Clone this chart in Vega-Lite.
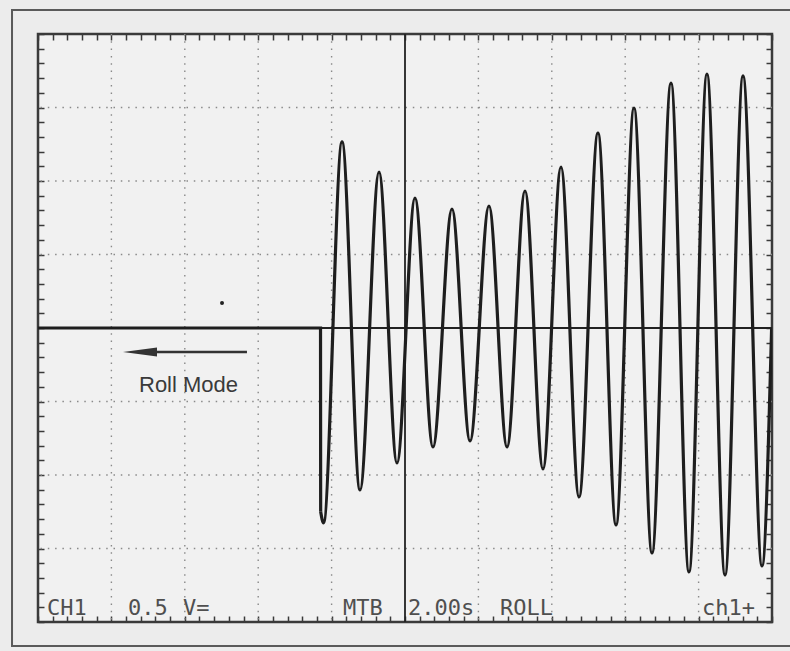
{
  "$schema": "https://vega.github.io/schema/vega-lite/v6.json",
  "width": 734,
  "height": 588,
  "autosize": {"type": "none"},
  "padding": {"left": 38, "top": 34, "right": 18, "bottom": 29},
  "background": "#ececec",
  "config": {
    "view": {"stroke": "#3a3a3a", "strokeWidth": 2.5, "fill": "#f1f1f1"}
  },
  "datasets": {
    "flat": [
      {"t": 0, "v": 0}, {"t": 3.849, "v": 0}, {"t": 3.851, "v": -2.5}
    ],
    "trace": [
      {"t": 3.851, "v": -2.5}, {"t": 3.89, "v": -2.65},
      {"t": 4.142, "v": 2.531}, {"t": 4.387, "v": -2.204}, {"t": 4.646, "v": 2.122}, {"t": 4.891, "v": -1.837},
      {"t": 5.136, "v": 1.769}, {"t": 5.381, "v": -1.619}, {"t": 5.640, "v": 1.619}, {"t": 5.886, "v": -1.537},
      {"t": 6.144, "v": 1.660}, {"t": 6.390, "v": -1.619}, {"t": 6.635, "v": 1.864}, {"t": 6.880, "v": -1.918},
      {"t": 7.125, "v": 2.190}, {"t": 7.371, "v": -2.299}, {"t": 7.629, "v": 2.653}, {"t": 7.875, "v": -2.680},
      {"t": 8.120, "v": 2.993}, {"t": 8.365, "v": -3.061}, {"t": 8.624, "v": 3.333}, {"t": 8.869, "v": -3.320},
      {"t": 9.114, "v": 3.456}, {"t": 9.360, "v": -3.361}, {"t": 9.605, "v": 3.429}, {"t": 9.864, "v": -3.238},
      {"t": 9.995, "v": 0.0}
    ],
    "vgrid": [{"x": 1}, {"x": 2}, {"x": 3}, {"x": 4}, {"x": 6}, {"x": 7}, {"x": 8}, {"x": 9}],
    "hgrid": [{"y": -3}, {"y": -2}, {"y": -1}, {"y": 1}, {"y": 2}, {"y": 3}],
    "mono": [
      {"label": "CH1", "x": 0.123, "y": -3.905},
      {"label": "0.5", "x": 1.226, "y": -3.905},
      {"label": "V=", "x": 1.975, "y": -3.905},
      {"label": "MTB", "x": 4.155, "y": -3.905},
      {"label": "2.00s", "x": 5.041, "y": -3.905},
      {"label": "ROLL", "x": 6.294, "y": -3.905},
      {"label": "ch1+", "x": 9.046, "y": -3.905}
    ]
  },
  "resolve": {"axis": {"x": "independent", "y": "independent"}},
  "layer": [
    {
      "data": {"values": [{"x1": -0.354, "x2": 11.5, "y1": 4.327, "y2": -4.327}]},
      "mark": {"type": "rect", "filled": false, "stroke": "#5a5a5a", "strokeWidth": 2},
      "encoding": {
        "x": {"field": "x1", "type": "quantitative", "scale": {"domain": [0, 10], "nice": false, "zero": false}, "axis": null},
        "x2": {"field": "x2"},
        "y": {"field": "y1", "type": "quantitative", "scale": {"domain": [-4, 4], "nice": false, "zero": false}, "axis": null},
        "y2": {"field": "y2"}
      }
    },
    {
      "data": {"values": [{"x": 0, "y": 0}]},
      "mark": {"type": "point", "opacity": 0},
      "encoding": {
        "x": {"field": "x", "type": "quantitative", "axis": {"orient": "bottom", "offset": -6, "tickSize": 6, "tickWidth": 1.5, "tickColor": "#3a3a3a", "labels": false, "domain": false, "grid": false, "title": null,
          "values": [0,0.2,0.4,0.6,0.8,1,1.2,1.4,1.6,1.8,2,2.2,2.4,2.6,2.8,3,3.2,3.4,3.6,3.8,4,4.2,4.4,4.6,4.8,5,5.2,5.4,5.6,5.8,6,6.2,6.4,6.6,6.8,7,7.2,7.4,7.6,7.8,8,8.2,8.4,8.6,8.8,9,9.2,9.4,9.6,9.8,10]}},
        "y": {"field": "y", "type": "quantitative", "axis": {"orient": "left", "offset": -6, "tickSize": 6, "tickWidth": 1.5, "tickColor": "#3a3a3a", "labels": false, "domain": false, "grid": false, "title": null,
          "values": [-4,-3.8,-3.6,-3.4,-3.2,-3,-2.8,-2.6,-2.4,-2.2,-2,-1.8,-1.6,-1.4,-1.2,-1,-0.8,-0.6,-0.4,-0.2,0,0.2,0.4,0.6,0.8,1,1.2,1.4,1.6,1.8,2,2.2,2.4,2.6,2.8,3,3.2,3.4,3.6,3.8,4]}}
      }
    },
    {
      "data": {"values": [{"x": 0, "y": 0}]},
      "mark": {"type": "point", "opacity": 0},
      "encoding": {
        "x": {"field": "x", "type": "quantitative", "axis": {"orient": "top", "offset": -6, "tickSize": 6, "tickWidth": 1.5, "tickColor": "#3a3a3a", "labels": false, "domain": false, "grid": false, "title": null,
          "values": [0,0.2,0.4,0.6,0.8,1,1.2,1.4,1.6,1.8,2,2.2,2.4,2.6,2.8,3,3.2,3.4,3.6,3.8,4,4.2,4.4,4.6,4.8,5,5.2,5.4,5.6,5.8,6,6.2,6.4,6.6,6.8,7,7.2,7.4,7.6,7.8,8,8.2,8.4,8.6,8.8,9,9.2,9.4,9.6,9.8,10]}},
        "y": {"field": "y", "type": "quantitative", "axis": {"orient": "right", "offset": -6, "tickSize": 6, "tickWidth": 1.5, "tickColor": "#3a3a3a", "labels": false, "domain": false, "grid": false, "title": null,
          "values": [-4,-3.8,-3.6,-3.4,-3.2,-3,-2.8,-2.6,-2.4,-2.2,-2,-1.8,-1.6,-1.4,-1.2,-1,-0.8,-0.6,-0.4,-0.2,0,0.2,0.4,0.6,0.8,1,1.2,1.4,1.6,1.8,2,2.2,2.4,2.6,2.8,3,3.2,3.4,3.6,3.8,4]}}
      }
    },
    {
      "data": {"name": "vgrid"},
      "mark": {"type": "rule", "stroke": "#8a8a8a", "strokeWidth": 1.4, "strokeDash": [1.5, 5.8]},
      "encoding": {"x": {"field": "x", "type": "quantitative", "axis": null}}
    },
    {
      "data": {"name": "hgrid"},
      "mark": {"type": "rule", "stroke": "#8a8a8a", "strokeWidth": 1.4, "strokeDash": [1.5, 5.8]},
      "encoding": {"y": {"field": "y", "type": "quantitative", "axis": null}}
    },
    {
      "data": {"values": [{"x": 5}]},
      "mark": {"type": "rule", "stroke": "#222222", "strokeWidth": 1.8},
      "encoding": {"x": {"field": "x", "type": "quantitative", "axis": null}}
    },
    {
      "data": {"values": [{"y": 0}]},
      "mark": {"type": "rule", "stroke": "#222222", "strokeWidth": 1.8},
      "encoding": {"y": {"field": "y", "type": "quantitative", "axis": null}}
    },
    {
      "data": {"name": "flat"},
      "mark": {"type": "line", "interpolate": "linear", "stroke": "#1e1e1e", "strokeWidth": 3.2, "clip": true},
      "encoding": {
        "x": {"field": "t", "type": "quantitative", "axis": null},
        "y": {"field": "v", "type": "quantitative", "axis": null}
      }
    },
    {
      "data": {"name": "trace"},
      "mark": {"type": "line", "interpolate": "monotone", "stroke": "#1e1e1e", "strokeWidth": 3.2, "clip": true},
      "encoding": {
        "x": {"field": "t", "type": "quantitative", "axis": null},
        "y": {"field": "v", "type": "quantitative", "axis": null}
      }
    },
    {
      "data": {"values": [{"x1": 1.526, "x2": 2.847, "y": -0.327}]},
      "mark": {"type": "rule", "stroke": "#333333", "strokeWidth": 2.5},
      "encoding": {
        "x": {"field": "x1", "type": "quantitative", "axis": null},
        "x2": {"field": "x2"},
        "y": {"field": "y", "type": "quantitative", "axis": null}
      }
    },
    {
      "data": {"values": [{"x": 1.39, "y": -0.327}]},
      "mark": {"type": "point", "shape": "M -1 0 L 1 -0.27 L 1 0.27 Z", "filled": true, "color": "#333333", "opacity": 1, "size": 1156},
      "encoding": {
        "x": {"field": "x", "type": "quantitative", "axis": null},
        "y": {"field": "y", "type": "quantitative", "axis": null}
      }
    },
    {
      "data": {"values": [{"x": 2.507, "y": 0.34}]},
      "mark": {"type": "point", "shape": "circle", "filled": true, "color": "#222222", "opacity": 1, "size": 16},
      "encoding": {
        "x": {"field": "x", "type": "quantitative", "axis": null},
        "y": {"field": "y", "type": "quantitative", "axis": null}
      }
    },
    {
      "data": {"values": [{"label": "Roll Mode", "x": 1.376, "y": -0.871}]},
      "mark": {"type": "text", "font": "Liberation Sans", "fontSize": 22, "fill": "#3a3a3a", "align": "left", "baseline": "alphabetic"},
      "encoding": {
        "x": {"field": "x", "type": "quantitative", "axis": null},
        "y": {"field": "y", "type": "quantitative", "axis": null},
        "text": {"field": "label"}
      }
    },
    {
      "data": {"name": "mono"},
      "mark": {"type": "text", "font": "DejaVu Sans Mono", "fontSize": 22, "fill": "#4f4f4f", "align": "left", "baseline": "alphabetic"},
      "encoding": {
        "x": {"field": "x", "type": "quantitative", "axis": null},
        "y": {"field": "y", "type": "quantitative", "axis": null},
        "text": {"field": "label"}
      }
    }
  ]
}
